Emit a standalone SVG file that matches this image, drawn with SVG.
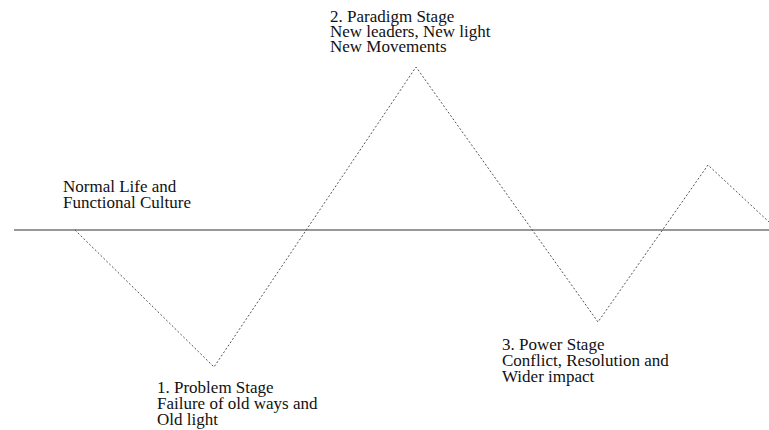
<svg xmlns="http://www.w3.org/2000/svg" width="769" height="430" viewBox="0 0 769 430">
  <style>
    .lbl { font-family: "Liberation Serif", "Times New Roman", serif; font-size: 17px; fill: #111; }
    .base { stroke: #333; stroke-width: 1.2; fill: none; }
    .wave { stroke: #555; stroke-width: 1; stroke-dasharray: 2 2; fill: none; }
  </style>
  <rect width="769" height="430" fill="#fff"/>
  <g id="connectors">
    <line class="base" x1="14" y1="230" x2="769" y2="230"/>
    <polyline class="wave" points="75,230 214,367 416,67 598,322 708,165 769,222"/>
  </g>
  <g id="normal-life">
    <text class="lbl" x="63" y="192">Normal Life and</text>
    <text class="lbl" x="63" y="208">Functional Culture</text>
  </g>
  <g id="problem-stage">
    <text class="lbl" x="157" y="393">1. Problem Stage</text>
    <text class="lbl" x="157" y="409">Failure of old ways and</text>
    <text class="lbl" x="157" y="425">Old light</text>
  </g>
  <g id="paradigm-stage">
    <text class="lbl" x="330" y="22">2. Paradigm Stage</text>
    <text class="lbl" x="330" y="37">New leaders, New light</text>
    <text class="lbl" x="330" y="52">New Movements</text>
  </g>
  <g id="power-stage">
    <text class="lbl" x="502" y="350">3. Power Stage</text>
    <text class="lbl" x="502" y="366">Conflict, Resolution and</text>
    <text class="lbl" x="502" y="382">Wider impact</text>
  </g>
</svg>
